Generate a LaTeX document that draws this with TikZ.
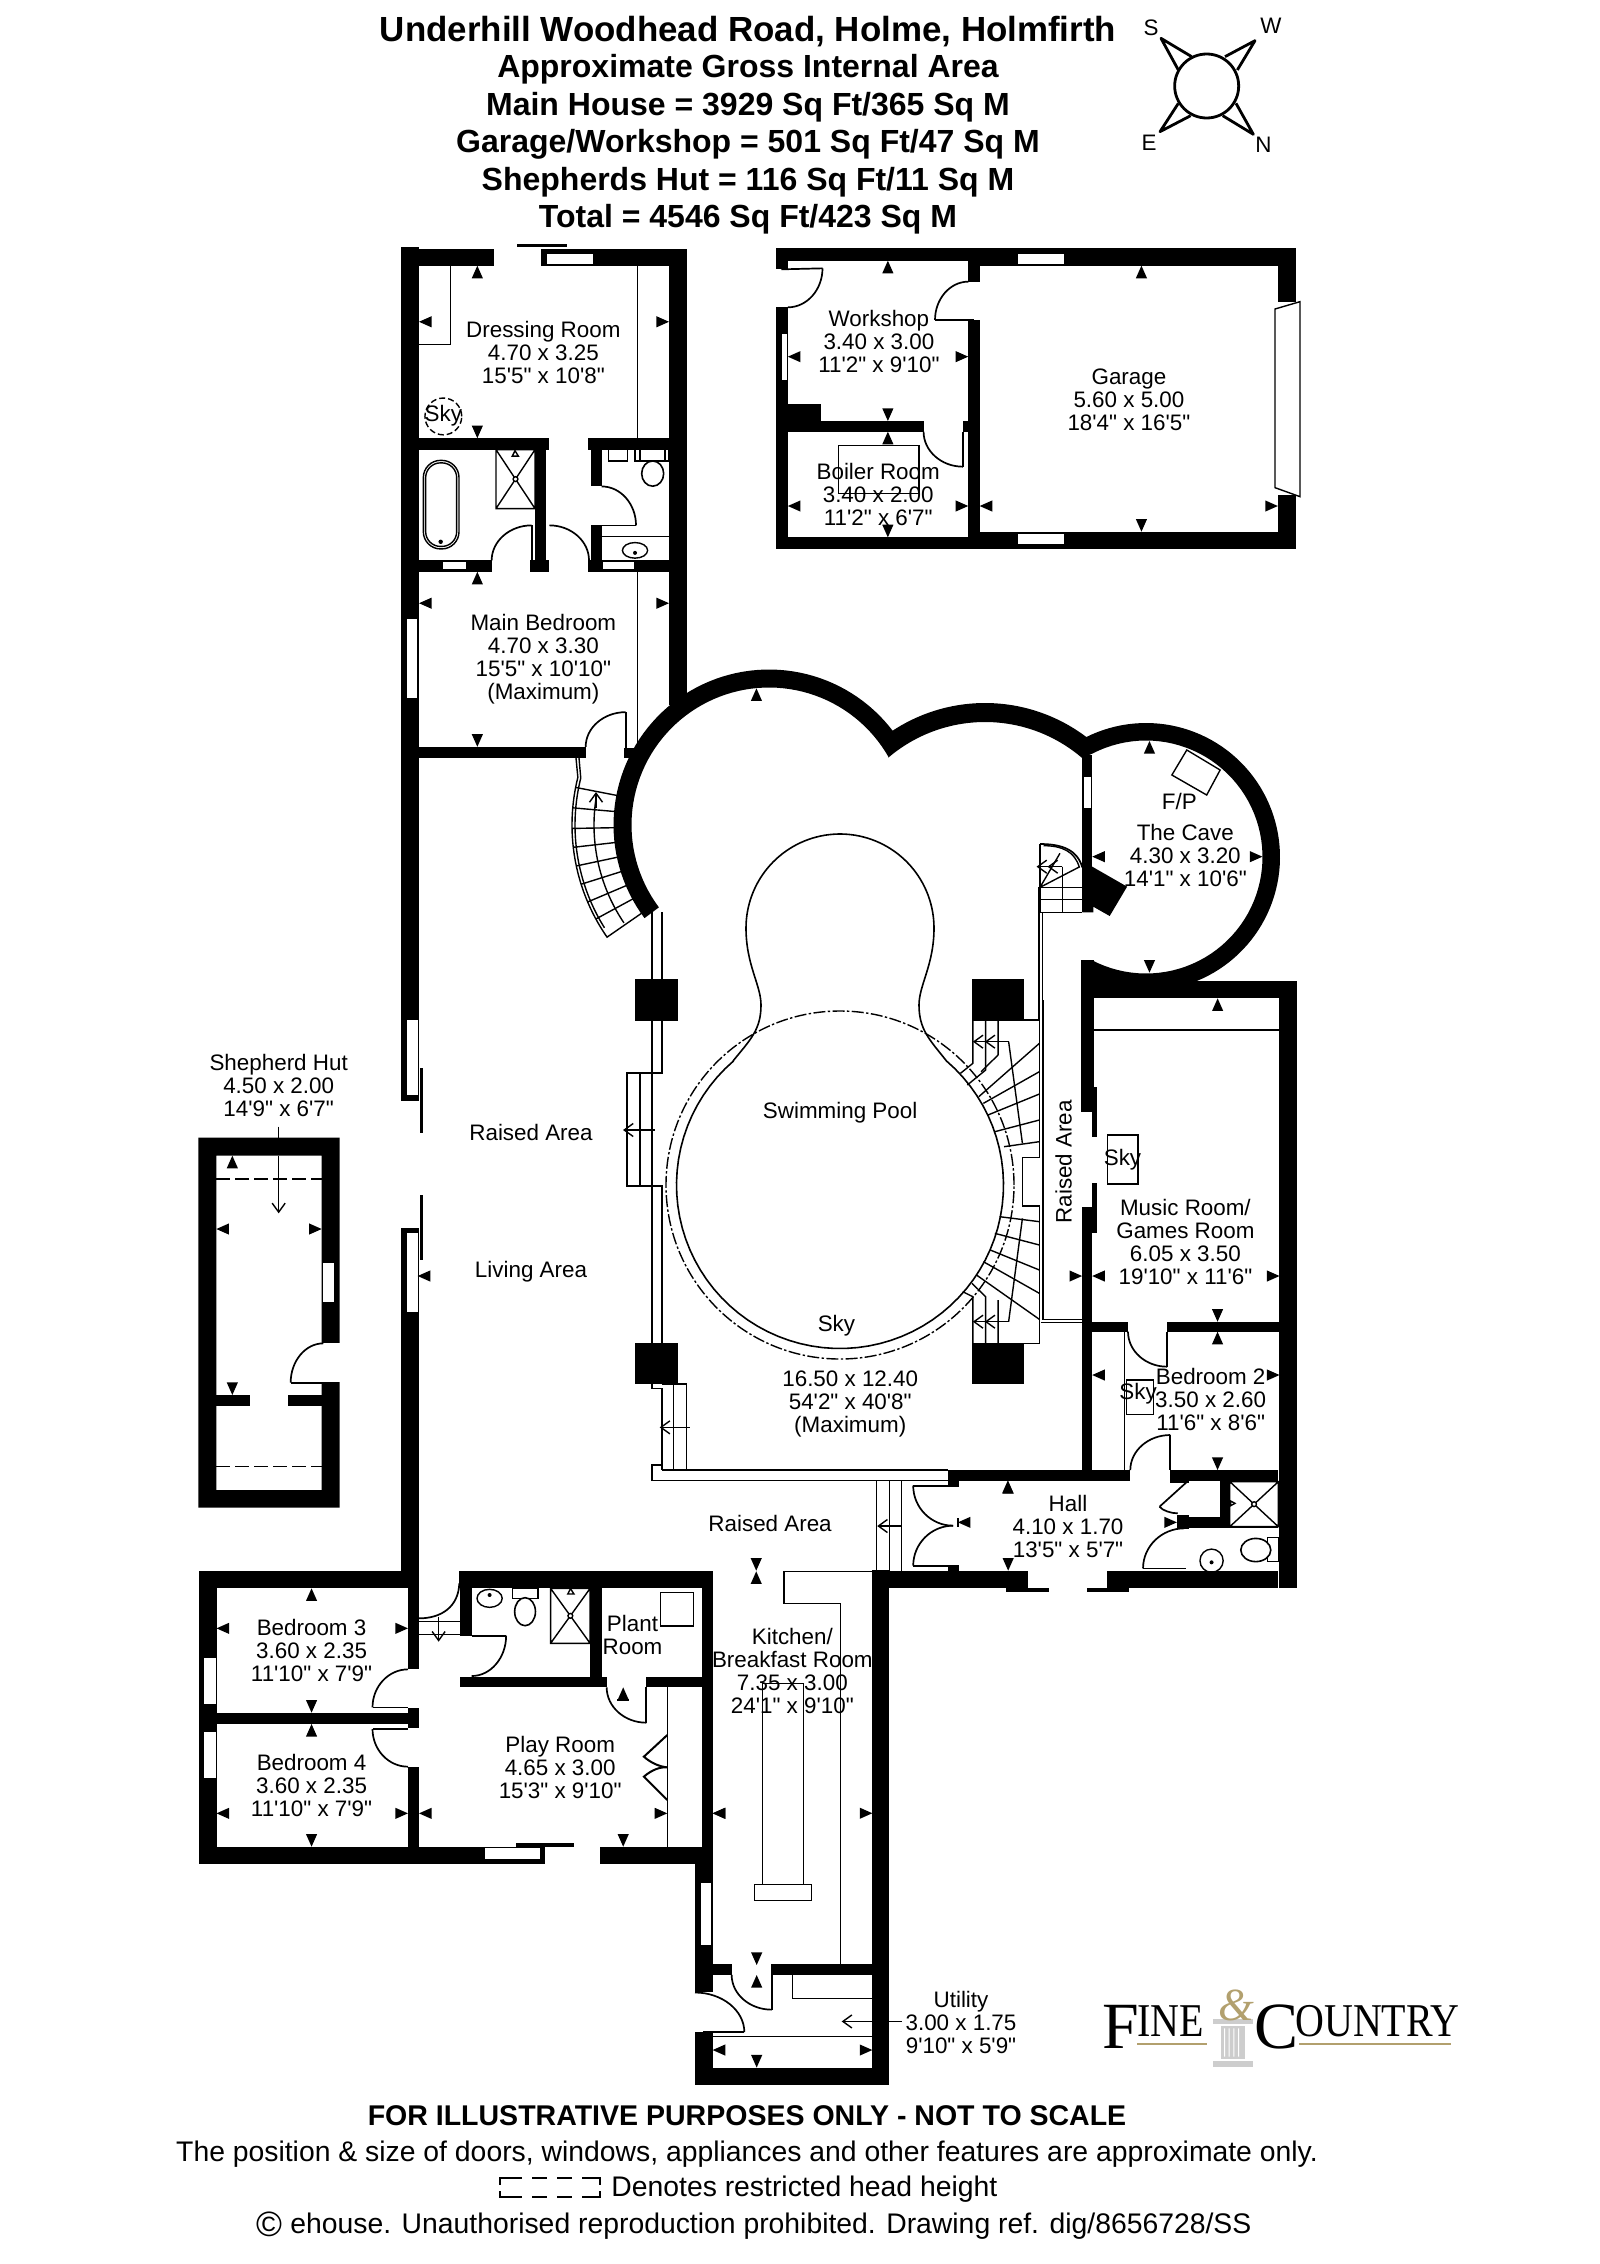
\documentclass[tikz,border=0pt]{standalone}
\usepackage{fontspec}
\usetikzlibrary{calc,arrows.meta}
\newfontfamily\lsans{Liberation Sans}
\newfontfamily\lserif{Liberation Serif}
\definecolor{logogold}{RGB}{178,160,110}
\definecolor{logogrey}{RGB}{205,205,205}
\tikzset{
  zz/.style n args={4}{shift={(#1,#2)},x=#3pt,y=-#4pt},
  zA/.style={zz={380}{230}{.16667}{.17857}},
  zB/.style={zz={760}{230}{.17857}{.16667}},
  zC/.style={zz={540}{660}{.24876}{.16667}},
  zD/.style={zz={600}{1000}{.22957}{.16667}},
  zE/.style={zz={640}{1300}{.21683}{.16667}},
  zF/.style={zz={190}{1040}{.16667}{.16667}},
  zG/.style={zz={190}{1550}{.17218}{.16667}},
  zH/.style={zz={620}{1540}{.16667}{.17857}},
  fine/.style={line width=.7pt},
  doorline/.style={line width=.85pt},
  lbl/.style={font=\fontsize{11.2}{11.5}\selectfont\lsans,align=center,inner sep=0pt},
  titlefont/.style={font=\fontsize{16}{18}\selectfont\lsans\bfseries,inner sep=0pt},
  footfont/.style={font=\fontsize{14.17}{16}\selectfont\lsans,inner sep=0pt},
  openhead/.style={-{Straight Barb[length=4.5pt,width=6.5pt,line width=.7pt]},fine},
  fixt/.style={line width=.8pt,fill=white},
  logosmall/.style={inner sep=0pt,anchor=base west,font=\fontsize{23.5}{24}\selectfont\lserif,xscale=.85,transform shape},
  logobig/.style={inner sep=0pt,anchor=base west,font=\fontsize{33}{33}\selectfont\lserif},
}
\newcommand\wm[3]{\fill[shift={(#1,#2)},rotate=#3] (0,0)--(-6.3pt,2.8pt)--(-6.3pt,-2.8pt)--cycle;}
\newcommand\darc[3]{\draw[doorline] (#1) .. controls ($(#1)!.55!(#2)$) and ($(#3)!.55!(#2)$) .. (#3);}
\newcommand\crossbox[4]{\draw[fine] (#1,#2) rectangle (#3,#4) (#1,#2)--(#3,#4) (#1,#4)--(#3,#2);
  \fill[white] ($(#1,#2)!.5!(#3,#4)$) circle (1.2pt); \draw[fine] ($(#1,#2)!.5!(#3,#4)$) circle (1.2pt);}
\begin{document}
\begin{tikzpicture}[x=.5pt,y=-.5pt,samples=70]
\useasboundingbox (0,0) rectangle (1600,2264);
\fill[white] (0,0) rectangle (1600,2264);

%% TITLE
\node[titlefont,font=\fontsize{17.45}{18}\selectfont\lsans\bfseries] (t1) at (748,32) {Underhill Woodhead Road, Holme, Holmfirth};
\node[titlefont] (t2) at (748,69) {Approximate Gross Internal Area};
\node[titlefont] (t3) at (748,107) {Main House = 3929 Sq Ft/365 Sq M};
\node[titlefont] (t4) at (748,144) {Garage/Workshop = 501 Sq Ft/47 Sq M};
\node[titlefont] (t5) at (748,182) {Shepherds Hut = 116 Sq Ft/11 Sq M};
\node[titlefont] (t6) at (748,219) {Total = 4546 Sq Ft/423 Sq M};

%% COMPASS
\begin{scope}[zz={1100}{0}{.16667}{.16667},line width=1.4pt,line join=round]
\draw (320,258) circle (16pt);
\draw (275,170)--(183,115)--(235,210);
\draw (375,170)--(465,122)--(412,210);
\draw (235,310)--(180,395)--(272,347);
\draw (408,310)--(460,403)--(368,347);
\node[lbl] (cs) at (153,82) {S};
\node[lbl] (cw) at (513,77) {W};
\node[lbl] (ce) at (147,428) {E};
\node[lbl] (cn) at (490,435) {N};
\end{scope}

%% POOL
\draw[fine,dash pattern=on 6pt off 1.2pt on 1.2pt off 1.2pt] (840,1185) circle (87pt);
\draw[line width=.8pt] plot[domain=130.6:409.4] ({840+163.5*cos(\x)},{1185-163.5*sin(\x)})
  .. controls (930,1040) and (919,1030) .. (919,1005) .. controls (919,985) and (934,965) .. (934,928)
  -- plot[domain=0:180] ({840+94*cos(\x)},{928-94*sin(\x)})
  .. controls (746,965) and (761,985) .. (761,1005) .. controls (761,1030) and (750,1040) .. (733,1061);

%% LEFT CURVED STAIR
\draw[fine] (576,758) -- plot[domain=166:214.7] ({769+197*cos(\x)},{825-197*sin(\x)}) -- ({769+155*cos(214.7)},{825-155*sin(214.7)});
\draw[fine] (579,758) -- plot[domain=166:212] ({769+194*cos(\x)},{825-194*sin(\x)});
\draw[fine] plot[domain=170:214] ({769+175*cos(\x)},{825-175*sin(\x)});
\foreach \a in {169,175,181,186.5,192,197.5,203,208.5}
  \draw[fine] ({769+155*cos(\a)},{825-155*sin(\a)}) -- ({769+197*cos(\a)},{825-197*sin(\a)});
\coordinate (lsa) at (596,808); \coordinate (lsb) at (596,792);
\draw[openhead] (lsa) -- (lsb);

%% RAILINGS / LEFT STEPS
\draw[fine] (652,910)--(652,1073) (662,912)--(662,1073)--(627,1073)--(627,1186)--(662,1186)--(662,1343);
\draw[fine] (640,1073)--(640,1186) (652,1073)--(652,1343);
\coordinate (s1a) at (655,1130); \coordinate (s1b) at (623,1130);
\draw[openhead] (s1a) -- (s1b);
\begin{scope}[zD]
\draw[fine] (113,1152)--(113,1165)--(135,1165) (135,1152)--(188,1152)--(188,1410) (135,1165)--(135,1410) (160,1152)--(160,1410);
\draw[fine] (135,1395)--(113,1395)--(113,1442)--(757,1442) (135,1410)--(757,1410);
\coordinate (s2a) at (195,1282); \coordinate (s2b) at (130,1282);
\draw[openhead] (s2a) -- (s2b);
%% right pool stairs
\draw[fine] (922,60)--(957,60)--(957,472)--(920,472)--(920,618)--(957,618)--(957,1030)--(812,1030);
\draw[fine] (965,0)--(965,958)--(1050,958) (960,967)--(1050,967);
\draw[fine] (812,60)--(812,190)--(785,220) (840,60)--(840,210)--(800,255) (867,60)--(867,165);
\draw[fine] (890,125)--(920,430) (867,165)--(830,215);
\draw[fine] (825,290)--(957,130) (835,310)--(957,215) (845,345)--(957,282) (860,395)--(957,360) (880,440)--(957,425);
\draw[fine] (870,650)--(957,665) (860,700)--(957,735) (850,750)--(957,810) (835,785)--(957,880) (820,825)--(957,958);
\draw[fine] (920,655)--(890,965);
\draw[fine] (812,1030)--(812,890)--(790,875) (840,1030)--(840,890)--(810,850) (867,1030)--(867,900);
\draw[fine] (890,125)--(815,125) (890,965)--(815,965);
\coordinate (d1a) at (860,125); \coordinate (d1b) at (812,125); \coordinate (d1c) at (838,125);
\draw[openhead] (d1a) -- (d1b); \draw[openhead] (d1a) -- (d1c);
\coordinate (d2a) at (860,965); \coordinate (d2b) at (812,965); \coordinate (d2c) at (838,965);
\draw[openhead] (d2a) -- (d2b); \draw[openhead] (d2a) -- (d2c);
\end{scope}

%% SMALL RIGHT STAIR AND RAILS
\begin{scope}[zC]
\draw[fine] (1003,682)--(1003,1080) (1010,757)--(1010,1500);
\draw[fine] (1005,552)--(1005,757)--(1090,757) (1050,682)--(1050,757) (1005,682)--(1090,682) (1005,718)--(1090,718);
\draw[fine] (1050,620)--(1005,620) (1050,620)--(1050,682);
\draw[doorline] (1005,552) .. controls (1050,552) and (1080,570) .. (1090,622);
\draw[fine] (1012,557) .. controls (1050,557) and (1075,575) .. (1084,622);
\draw[fine] (1005,682)--(1045,580) (1005,682)--(1085,620);
\coordinate (r1a) at (1045,620); \coordinate (r1b) at (998,620); \coordinate (r1c) at (1020,620);
\draw[openhead] (r1a) -- (r1b); \draw[openhead] (r1a) -- (r1c);
\end{scope}

%% BIG CURVED WALLS
\fill plot[domain=216.8:37] ({769+155.5*cos(\x)},{825-155.5*sin(\x)})
  -- plot[domain=123.8:53] ({985+168*cos(\x)},{871-168*sin(\x)})
  -- plot[domain=116.6:-67.5] ({1146+134*cos(\x)},{857-134*sin(\x)})
  -- (1197,990) -- (1081,990) -- (1081,960)
  -- plot[domain=242.3:477.4] ({1146+116.5*cos(\x)},{857-116.5*sin(\x)})
  -- (1082,758)
  -- plot[domain=49.4:130.4] ({985+149*cos(\x)},{871-149*sin(\x)})
  -- plot[domain=29.7:216.8] ({769+137.5*cos(\x)},{825-137.5*sin(\x)}) -- cycle;

%% PILLARS
\fill (635,979) rectangle (678,1021);
\fill (972,979) rectangle (1024,1021);
\fill (635,1343) rectangle (678,1384);
\fill (972,1343) rectangle (1024,1384);

%% LONG LEFT WALL
\fill (401,247) rectangle (419,1101);
\fill (401,1228) rectangle (419,1588);
\fill[white] (407,1020) rectangle (418,1095);
\fill[white] (407,1233) rectangle (418,1312);
\fill (420,1068) rectangle (423,1133);
\fill (420,1195) rectangle (423,1260);

%% MAIN BEDROOM WING
\begin{scope}[zA]
\fill (63,52) rectangle (343,100);
\fill (483,52) rectangle (920,100);
\fill (410,38) rectangle (560,48);
\fill (867,52) rectangle (920,1330);
\fill (117,583) rectangle (507,615);
\fill (465,583) rectangle (499,957);
\fill (450,925) rectangle (507,957);
\fill (623,583) rectangle (867,615);
\fill (632,583) rectangle (665,718);
\fill (632,827) rectangle (665,957);
\fill (117,925) rectangle (335,957);
\fill (623,925) rectangle (867,957);
\fill (117,1447) rectangle (617,1478);
\fill (733,1450) rectangle (765,1478);
\fill[white] (500,68) rectangle (640,96);
\fill[white] (190,930) rectangle (258,950);
\fill[white] (670,930) rectangle (763,950);
\fill[white] (80,1090) rectangle (112,1310);
\draw[fine] (117,320) -- (211,320) -- (211,100);
\draw[fine] (772,100) -- (772,583) (772,957) -- (772,1450);
\draw[fine] (665,858) -- (867,858);
\draw[doorline] (455,827) -- (455,925);
\darc{335,925}{335,827}{455,827}
\darc{508,827}{627,827}{627,925}
\darc{665,718}{768,718}{768,827}
\draw[doorline] (768,827) -- (665,827);
\darc{617,1447}{617,1350}{737,1350}
\draw[doorline] (737,1350) -- (737,1455);
\draw[fine,rounded corners=8.6pt] (130,645) rectangle (237,893);
\draw[fine,rounded corners=7.4pt] (137,652) rectangle (230,886);
\fill (182,873) circle (1.1pt);
\crossbox{348}{615}{465}{780}
\draw[fine] (405,618)--(397,633)--(415,633)--cycle;
\draw[fine] (685,615) rectangle (743,647);
\draw[fine] (765,615) rectangle (867,647) (780,615)--(780,647) (855,615)--(855,647);
\draw[fixt] (818,682) ellipse (5.5pt and 6.3pt);
\draw[fine] (765,897) ellipse (6.3pt and 3.9pt);
\fill (765,904) circle (1pt);
\draw[fine,dash pattern=on 3pt off 1.5pt] (190,522) circle (9.2pt);
\wm{292}{100}{90} \wm{117}{257}{180} \wm{867}{257}{0} \wm{292}{583}{-90}
\wm{292}{957}{90} \wm{117}{1045}{180} \wm{867}{1045}{0} \wm{292}{1447}{-90}
\node[lbl] (dress) at (490,343) {Dressing Room\\4.70 x 3.25\\15'5" x 10'8"};
\node[lbl] (mbed) at (490,1203) {Main Bedroom\\4.70 x 3.30\\15'5" x 10'10"\\(Maximum)};
\node[lbl] (sky1) at (190,520) {Sky};
\end{scope}

%% THE CAVE etc.
\begin{scope}[zC]
\fill (1090,285) rectangle (1110,757);
\fill (1110,620)--(1180,680)--(1145,768)--(1112,740)--(1112,757)--(1090,757)--(1090,620)--cycle;
\fill[white] (1093,352) rectangle (1108,443);
\draw[fine] (1300,270)--(1367,330)--(1340,405)--(1270,345)--cycle;
\wm{435}{85}{90} \wm{1225}{243}{90} \wm{1110}{590}{180} \wm{1452}{590}{0} \wm{1225}{938}{-90} \wm{1362}{1015}{90}
\node[lbl] (fp) at (1285,425) {F/P};
\node[lbl] (cave) at (1297,587) {The Cave\\4.30 x 3.20\\14'1" x 10'6"};
\end{scope}

%% MUSIC ROOM, BEDROOM 2
\fill (1081,960) rectangle (1094,1112);
\fill (1081,981) rectangle (1297,998);
\fill (1092,1087) rectangle (1097,1137);
\fill (1092,1183) rectangle (1097,1233);
\fill (1082,1207) rectangle (1092,1480);
\fill (1279,981) rectangle (1297,1588);
\begin{scope}[zD]
\draw[fine] (1072,90)--(1480,90);
\fill (1050,965) rectangle (1150,995);
\fill (1235,965) rectangle (1480,995);
\draw[fine] (1105,405) rectangle (1172,552);
\draw[fine] (1147,1140) rectangle (1205,1243);
\draw[fine] (1142,995)--(1142,1410);
\darc{1150,995}{1150,1100}{1235,1100}
\draw[doorline] (1235,995)--(1235,1100);
\darc{1155,1410}{1155,1305}{1242,1305}
\draw[doorline] (1242,1305)--(1242,1410);
\wm{1072}{828}{180} \wm{1050}{828}{0} \wm{1480}{828}{0}
\wm{1345}{965}{-90} \wm{1345}{995}{90}
\wm{1072}{1125}{180} \wm{1480}{1125}{0} \wm{1345}{1410}{-90}
\wm{888}{1442}{90}
\node[lbl] (sky2) at (1138,478) {Sky};
\node[lbl] (sky3) at (1172,1182) {Sky};
\node[lbl] (pool) at (523,339) {Swimming Pool};
\node[lbl] (sky4) at (515,977) {Sky};
\node[lbl] (poolsz) at (545,1213) {16.50 x 12.40\\54'2" x 40'8"\\(Maximum)};
\node[lbl,rotate=90] (raised2) at (1010,485) {Raised Area};
\node[lbl] (music) at (1275,727) {Music Room/\\Games Room\\6.05 x 3.50\\19'10" x 11'6"};
\node[lbl] (bed2) at (1330,1197) {Bedroom 2\\3.50 x 2.60\\11'6" x 8'6"};
\end{scope}

%% HALL
\begin{scope}[zE]
\fill (710,510) rectangle (1130,543);
\fill (1222,510) rectangle (1472,543);
\fill (710,543) rectangle (735,560);
\fill (1222,543) rectangle (1265,550);
\fill (535,812) rectangle (895,865);
\fill (1078,812) rectangle (1472,865);
\fill (845,865) rectangle (942,877);
\fill (1030,865) rectangle (1128,877);
\fill (710,795) rectangle (735,812);
\fill (1337,543) rectangle (1360,683);
\fill (1238,650) rectangle (1360,683);
\fill (1238,645) rectangle (1265,688);
\draw[fine] (545,543)--(545,812) (575,543)--(575,812) (603,543)--(603,812);
\coordinate (h1a) at (603,678); \coordinate (h1b) at (547,678);
\draw[openhead] (h1a) -- (h1b);
\draw[doorline] (720,557)--(630,557);
\darc{630,557}{630,677}{722,677}
\darc{722,677}{630,677}{630,797}
\draw[doorline] (630,797)--(720,797);
\draw[doorline] (1260,547)--(1198,620);
\darc{1198,620}{1210,640}{1240,640}
\darc{1160,805}{1160,685}{1255,685}
\draw[doorline] (1160,805)--(1260,805);
\draw[fine] (1265,683)--(1472,683);
\crossbox{1360}{545}{1472}{680}
\draw[fine] (1372,610)--(1362,603)--(1362,617)--cycle;
\draw[fine] (1447,712) rectangle (1472,785);
\draw[fixt] (1420,750) ellipse (7.5pt and 5.8pt);
\draw[fine] (1318,782) circle (5.8pt);
\fill (1318,787) circle (1pt);
\wm{849}{543}{90} \wm{849}{812}{-90} \wm{733}{667}{180} \wm{1238}{667}{0}
\draw[line width=.9pt] (733,655)--(733,680);
\wm{268}{812}{-90} \wm{268}{814}{90}
\node[lbl] (hall) at (987,678) {Hall\\4.10 x 1.70\\13'5" x 5'7"};
\node[lbl] (raised3) at (300,670) {Raised Area};
\end{scope}

%% BEDROOMS 3,4, PLAY ROOM
\begin{scope}[zG]
\fill (25,62) rectangle (665,115);
\fill (25,62) rectangle (77,942);
\fill (25,890) rectangle (1030,942);
\fill (1192,890) rectangle (1518,942);
\fill (633,115) rectangle (665,358);
\fill (633,475) rectangle (665,535);
\fill (77,488) rectangle (650,522);
\fill (633,650) rectangle (665,890);
\fill (782,62) rectangle (1518,115);
\fill (785,115) rectangle (818,257);
\fill (1162,115) rectangle (1195,412);
\fill (785,380) rectangle (1210,412);
\fill (1325,380) rectangle (1518,412);
\fill (1488,115) rectangle (1518,942);
\fill (947,878) rectangle (1115,890);
\fill[white] (857,895) rectangle (1015,927);
\fill[white] (42,325) rectangle (75,463);
\fill[white] (42,545) rectangle (75,685);
\darc{633,358}{530,358}{530,472}
\draw[doorline] (530,472)--(633,472);
\darc{530,537}{530,650}{633,650}
\draw[doorline] (530,537)--(633,537);
\draw[doorline] (665,205)..controls (730,205) and (780,170)..(782,100);
\draw[fine] (665,215)--(785,215) (665,253)--(785,253);
\coordinate (b1a) at (722,200); \coordinate (b1b) at (722,275);
\draw[openhead] (b1a) -- (b1b);
\draw[doorline] (818,257)--(918,257);
\darc{918,257}{918,378}{818,378}
\darc{1210,412}{1210,518}{1325,518}
\draw[doorline] (1325,412)--(1325,518);
\draw[fine] (1386,412)--(1386,890);
\draw[line width=1pt] (1386,555)--(1318,620) .. controls (1340,640) and (1365,650) .. (1386,652) .. controls (1365,650) and (1340,660) .. (1318,680) -- (1386,750);
\draw[fine] (1367,128) rectangle (1462,228);
\draw[fine] (870,145) ellipse (6.3pt and 4.5pt);
\fill (870,135) circle (1pt);
\draw[fine] (937,115) rectangle (1010,145);
\draw[fixt] (973,185) ellipse (5.2pt and 7pt);
\crossbox{1047}{115}{1162}{280}
\draw[fine] (1105,116)--(1097,132)--(1115,132)--cycle;
\wm{353}{115}{90} \wm{77}{235}{180} \wm{633}{235}{0} \wm{353}{488}{-90}
\wm{353}{522}{90} \wm{77}{790}{180} \wm{633}{790}{0} \wm{353}{890}{-90}
\wm{665}{790}{180} \wm{1386}{790}{0} \wm{1258}{890}{-90} \wm{1258}{412}{90}
\draw[line width=.9pt] (1240,450)--(1276,450);
\wm{1518}{790}{180}
\node[lbl] (bed3) at (353,302) {Bedroom 3\\3.60 x 2.35\\11'10" x 7'9"};
\node[lbl] (bed4) at (353,705) {Bedroom 4\\3.60 x 2.35\\11'10" x 7'9"};
\node[lbl] (play) at (1075,652) {Play Room\\4.65 x 3.00\\15'3" x 9'10"};
\node[lbl] (plant) at (1285,255) {Plant\\Room};
\end{scope}

%% KITCHEN / UTILITY
\begin{scope}[zH]
\fill (757,85) rectangle (808,1525);
\fill (225,860) rectangle (278,1265);
\fill (225,1378) rectangle (278,1525);
\fill (225,1477) rectangle (808,1525);
\fill (278,1188) rectangle (335,1218);
\fill (452,1188) rectangle (757,1218);
\fill[white] (243,960) rectangle (273,1135);
\draw[fine] (755,88)--(492,88)--(492,177)--(662,177)--(662,1188);
\draw[fine] (428,965)--(428,402)--(550,402)--(550,965);
\draw[fine] (403,965) rectangle (575,1010);
\darc{335,1218}{335,1315}{455,1315}
\draw[doorline] (455,1218)--(455,1315);
\draw[fine] (517,1218)--(517,1283)--(757,1283);
\darc{225,1267}{373,1267}{373,1378}
\draw[doorline] (250,1378)--(373,1378);
\draw[fine] (278,1390)--(757,1390);
\coordinate (u1) at (755,1348); \coordinate (u2) at (665,1348);
\coordinate (u3) at (808,1348); \coordinate (u4) at (845,1348);
\draw[openhead] (u1) -- (u2);
\draw[fine] (u3) -- (u4);
\wm{410}{1190}{-90} \wm{410}{1218}{90}
\wm{278}{765}{180} \wm{757}{765}{0}
\wm{278}{1428}{180} \wm{757}{1428}{0} \wm{410}{1477}{-90}
\node[lbl] (kitchen) at (517,368) {Kitchen/\\Breakfast Room\\7.35 x 3.00\\24'1" x 9'10"};
\end{scope}
\node[lbl] (utility) at (961,2022) {Utility\\3.00 x 1.75\\9'10" x 5'9"};

%% WORKSHOP / GARAGE
\begin{scope}[zB]
\fill (45,55) rectangle (1502,92);
\fill (615,55) rectangle (1502,107);
\fill (45,55) rectangle (78,118);
\fill (45,232) rectangle (78,958);
\fill (45,922) rectangle (1502,958);
\fill (615,905) rectangle (1502,958);
\fill (1450,55) rectangle (1502,215);
\fill (1450,795) rectangle (1502,958);
\fill (78,523) rectangle (170,573);
\fill (78,573) rectangle (458,605);
\fill (583,92) rectangle (615,155);
\fill (583,270) rectangle (615,958);
\fill (568,572) rectangle (583,605);
\fill[white] (62,312) rectangle (75,450);
\fill[white] (722,72) rectangle (852,102);
\fill[white] (722,912) rectangle (852,942);
\draw[fine,fill=white] (1442,237)--(1512,215)--(1512,800)--(1442,773)--cycle;
\draw[doorline] (60,118)--(175,115);
\darc{175,115}{175,232}{78,232}
\darc{583,155}{490,155}{490,270}
\draw[doorline] (490,270)--(600,270);
\darc{458,605}{458,710}{568,710}
\draw[doorline] (568,605)--(568,710);
\draw[fine] (220,647) rectangle (445,790);
\wm{358}{92}{90} \wm{78}{380}{180} \wm{583}{380}{0} \wm{358}{573}{-90} \wm{358}{605}{90}
\wm{78}{828}{180} \wm{583}{828}{0} \wm{358}{922}{-90} \wm{615}{828}{180} \wm{1450}{828}{0}
\wm{1068}{107}{90} \wm{1068}{905}{-90}
\node[lbl] (work) at (333,333) {Workshop\\3.40 x 3.00\\11'2" x 9'10"};
\node[lbl] (boiler) at (331,793) {Boiler Room\\3.40 x 2.00\\11'2" x 6'7"};
\node[lbl] (garage) at (1033,508) {Garage\\5.60 x 5.00\\18'4" x 16'5"};
\end{scope}

%% SHEPHERD HUT
\begin{scope}[zF]
\fill[even odd rule] (25,293) rectangle (449,1403) (79,347) rectangle (395,1350);
\fill[white] (394,910) rectangle (450,1025);
\fill[white] (400,670) rectangle (432,785);
\fill (79,1065) rectangle (180,1098);
\fill (295,1065) rectangle (395,1098);
\draw[fine,dash pattern=on 7pt off 2.5pt] (79,417)--(395,417) (79,1280)--(395,1280);
\darc{400,910}{302,910}{302,1028}
\draw[doorline] (302,1028)--(420,1028);
\draw[fine] (266,260)--(266,293);
\coordinate (sh1) at (266,347); \coordinate (sh2) at (266,520);
\draw[openhead] (sh1) -- (sh2);
\wm{127}{347}{90} \wm{79}{567}{180} \wm{395}{567}{0} \wm{127}{1065}{-90} \wm{683}{708}{180}
\node[lbl] (hut) at (266,136) {Shepherd Hut\\4.50 x 2.00\\14'9" x 6'7"};
\node[lbl] (raised1) at (1023,278) {Raised Area};
\node[lbl] (living) at (1023,695) {Living Area};
\end{scope}

%% LOGO
\begin{scope}[zz={1020}{1900}{.16667}{.16667}]
\fill[logogrey] (578,358) rectangle (700,372);
\fill[logogrey] (602,378) rectangle (675,478);
\fill[logogrey] (578,482) rectangle (700,500);
\fill[white] (612,385) rectangle (615,470) (626,385) rectangle (629,470) (640,385) rectangle (643,470) (654,385) rectangle (657,470);
\fill[logogold] (352,430) rectangle (562,435);
\fill[logogold] (838,430) rectangle (1293,435);
\node[logobig] (lf) at (245,445) {F};
\node[logosmall] (li) at (350,410) {INE};
\node[logobig] (lc) at (702,445) {C};
\node[logosmall] (lo) at (825,410) {OUNTRY};
\node[inner sep=0pt,font=\fontsize{23}{24}\selectfont\lserif\itshape,text=logogold] (la) at (648,315) {\&};
\end{scope}

%% FOOTER
\node[footfont,font=\fontsize{14.26}{16}\selectfont\lsans\bfseries] (f1) at (747,2116) {FOR ILLUSTRATIVE PURPOSES ONLY - NOT TO SCALE};
\node[footfont] (f2) at (747,2154) {The position \& size of doors, windows, appliances and other features are approximate only.};
\begin{scope}[line width=.7pt]
\foreach \xa/\xb in {507/522,532/547,557/572,582/593} {
  \draw (\xa,2178)--(\xb,2178);
  \draw (\xa,2197)--(\xb,2197);
}
\draw (507,2178)--(500,2178)--(500,2185) (500,2191)--(500,2197)--(507,2197);
\draw (593,2178)--(600,2178)--(600,2185) (600,2191)--(600,2197)--(593,2197);
\end{scope}
\node[footfont,anchor=west] (f3) at (611,2189) {Denotes restricted head height};
\node[footfont,font=\fontsize{17.6}{18}\selectfont\lsans] (f4c) at (269,2224) {\textcopyright};
\node[footfont,anchor=west] (f4b) at (290,2226) {ehouse. Unauthorised reproduction prohibited. Drawing ref. dig/8656728/SS};
\end{tikzpicture}
\end{document}
